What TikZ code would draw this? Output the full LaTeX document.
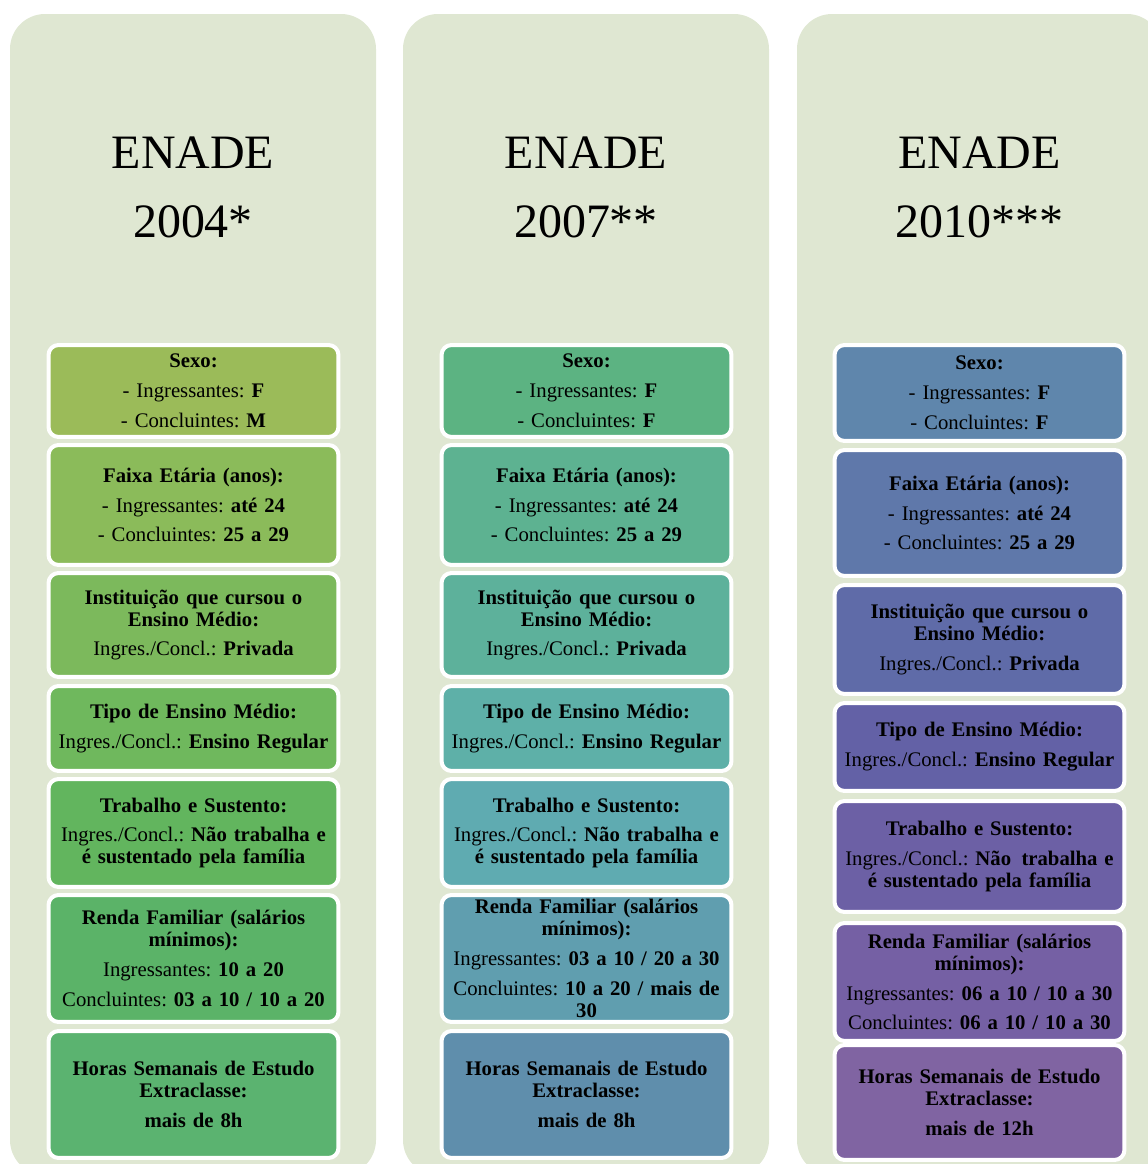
\documentclass[tikz,border=0pt]{standalone}
\usepackage{fontspec}
\setmainfont{Liberation Serif}
\frenchspacing

\definecolor{fundo}{HTML}{DFE7D2}
\definecolor{ca1}{HTML}{9BBB59}
\definecolor{ca2}{HTML}{8BBB5A}
\definecolor{ca3}{HTML}{7CB95C}
\definecolor{ca4}{HTML}{6FB85D}
\definecolor{ca5}{HTML}{62B55E}
\definecolor{ca6}{HTML}{5BB368}
\definecolor{ca7}{HTML}{5BB370}
\definecolor{cb1}{HTML}{5CB382}
\definecolor{cb2}{HTML}{5DB291}
\definecolor{cb3}{HTML}{5DB19B}
\definecolor{cb4}{HTML}{5EB0A8}
\definecolor{cb5}{HTML}{5FABB1}
\definecolor{cb6}{HTML}{609EAF}
\definecolor{cb7}{HTML}{5F8EAC}
\definecolor{cc1}{HTML}{5F86AC}
\definecolor{cc2}{HTML}{5F78AA}
\definecolor{cc3}{HTML}{5F6BA8}
\definecolor{cc4}{HTML}{6361A6}
\definecolor{cc5}{HTML}{6C60A5}
\definecolor{cc6}{HTML}{7560A4}
\definecolor{cc7}{HTML}{8064A2}

\tikzset{
  coluna/.style={fill=fundo,rounded corners=0.7cm},
  caixa/.style={rectangle,draw=white,line width=0.08cm,rounded corners=0.2cm,
    anchor=north,text width=5.72cm,inner xsep=0.04cm,inner ysep=0pt,align=center,
    font=\fontsize{11.8}{12.5}\selectfont},
  titulo/.style={anchor=base,align=center,inner sep=0pt,
    font=\fontsize{27.3}{39}\selectfont}
}

\begin{document}
\begin{tikzpicture}[line cap=round,line join=round,x=0.02cm,y=-0.02cm]
\useasboundingbox (0,0) rectangle (1148,1164);
\clip (0,0) rectangle (1148,1164);
\fill[coluna] (10,14) rectangle (376,1175);
\fill[coluna] (403,14) rectangle (769,1175);
\fill[coluna] (797,14) rectangle (1162,1175);

\node[titulo] (t2004) at (193,237) {ENADE\\2004*};
\node[titulo] (t2007) at (586,237) {ENADE\\2007**};
\node[titulo] (t2010) at (979.5,237) {ENADE\\2010***};

\node[caixa,fill=ca1,minimum height=1.84cm] (sexoA) at (193.5,343) {\textbf{Sexo:}\\[4.5pt] - Ingressantes: \textbf{F}\\[4.5pt] - Concluintes: \textbf{M}};
\node[caixa,fill=ca2,minimum height=2.40cm] (faixaA) at (193.5,443) {\textbf{Faixa Etária (anos):}\\[4.5pt] - Ingressantes: \textbf{até 24}\\[4.5pt] - Concluintes: \textbf{25 a 29}};
\node[caixa,fill=ca3,minimum height=2.08cm] (instA) at (193.5,571) {\textbf{Instituição que cursou o}\\ \textbf{Ensino Médio:}\\[4.5pt] Ingres./Concl.: \textbf{Privada}};
\node[caixa,fill=ca4,minimum height=1.70cm] (tipoA) at (193.5,684) {\textbf{Tipo de Ensino Médio:}\\[4.5pt] Ingres./Concl.: \textbf{Ensino Regular}};
\node[caixa,fill=ca5,minimum height=2.16cm] (trabA) at (193.5,777) {\textbf{Trabalho e Sustento:}\\[4.5pt] Ingres./Concl.: \textbf{Não trabalha e}\\ \textbf{é sustentado pela família}};
\node[caixa,fill=ca6,minimum height=2.54cm] (rendaA) at (193.5,893) {\textbf{Renda Familiar (salários}\\ \textbf{mínimos):}\\[4.5pt] Ingressantes: \textbf{10 a 20}\\[4.5pt] Concluintes: \textbf{03 a 10 / 10 a 20}};
\node[caixa,fill=ca7,minimum height=2.54cm] (horasA) at (193.5,1029) {\textbf{Horas Semanais de Estudo}\\ \textbf{Extraclasse:}\\[4.5pt] \textbf{mais de 8h}};

\node[caixa,fill=cb1,minimum height=1.84cm] (sexoB) at (586.5,343) {\textbf{Sexo:}\\[4.5pt] - Ingressantes: \textbf{F}\\[4.5pt] - Concluintes: \textbf{F}};
\node[caixa,fill=cb2,minimum height=2.40cm] (faixaB) at (586.5,443) {\textbf{Faixa Etária (anos):}\\[4.5pt] - Ingressantes: \textbf{até 24}\\[4.5pt] - Concluintes: \textbf{25 a 29}};
\node[caixa,fill=cb3,minimum height=2.08cm] (instB) at (586.5,571) {\textbf{Instituição que cursou o}\\ \textbf{Ensino Médio:}\\[4.5pt] Ingres./Concl.: \textbf{Privada}};
\node[caixa,fill=cb4,minimum height=1.70cm] (tipoB) at (586.5,684) {\textbf{Tipo de Ensino Médio:}\\[4.5pt] Ingres./Concl.: \textbf{Ensino Regular}};
\node[caixa,fill=cb5,minimum height=2.16cm] (trabB) at (586.5,777) {\textbf{Trabalho e Sustento:}\\[4.5pt] Ingres./Concl.: \textbf{Não trabalha e}\\ \textbf{é sustentado pela família}};
\node[caixa,fill=cb6,minimum height=2.54cm] (rendaB) at (586.5,893) {\textbf{Renda Familiar (salários}\\ \textbf{mínimos):}\\[4.5pt] Ingressantes: \textbf{03 a 10 / 20 a 30}\\[4.5pt] Concluintes: \textbf{10 a 20 / mais de}\\ \textbf{30}};
\node[caixa,fill=cb7,minimum height=2.54cm] (horasB) at (586.5,1029) {\textbf{Horas Semanais de Estudo}\\ \textbf{Extraclasse:}\\[4.5pt] \textbf{mais de 8h}};

\node[caixa,fill=cc1,minimum height=1.92cm] (sexoC) at (979.5,343) {\textbf{Sexo:}\\[4.5pt] - Ingressantes: \textbf{F}\\[4.5pt] - Concluintes: \textbf{F}};
\node[caixa,fill=cc2,minimum height=2.52cm] (faixaC) at (979.5,448) {\textbf{Faixa Etária (anos):}\\[4.5pt] - Ingressantes: \textbf{até 24}\\[4.5pt] - Concluintes: \textbf{25 a 29}};
\node[caixa,fill=cc3,minimum height=2.18cm] (instC) at (979.5,583) {\textbf{Instituição que cursou o}\\ \textbf{Ensino Médio:}\\[4.5pt] Ingres./Concl.: \textbf{Privada}};
\node[caixa,fill=cc4,minimum height=1.76cm] (tipoC) at (979.5,701) {\textbf{Tipo de Ensino Médio:}\\[4.5pt] Ingres./Concl.: \textbf{Ensino Regular}};
\node[caixa,fill=cc5,minimum height=2.22cm] (trabC) at (979.5,799) {\textbf{Trabalho e Sustento:}\\[4.5pt] Ingres./Concl.: \textbf{Não\,\ trabalha e}\\ \textbf{é sustentado pela família}};
\node[caixa,fill=cc6,minimum height=2.36cm] (rendaC) at (979.5,921) {\textbf{Renda Familiar (salários}\\ \textbf{mínimos):}\\[4.5pt] Ingressantes: \textbf{06 a 10 / 10 a 30}\\[4.5pt] Concluintes: \textbf{06 a 10 / 10 a 30}};
\node[caixa,fill=cc7,minimum height=2.30cm] (horasC) at (979.5,1043) {\textbf{Horas Semanais de Estudo}\\ \textbf{Extraclasse:}\\[4.5pt] \textbf{mais de 12h}};
\end{tikzpicture}
\end{document}
